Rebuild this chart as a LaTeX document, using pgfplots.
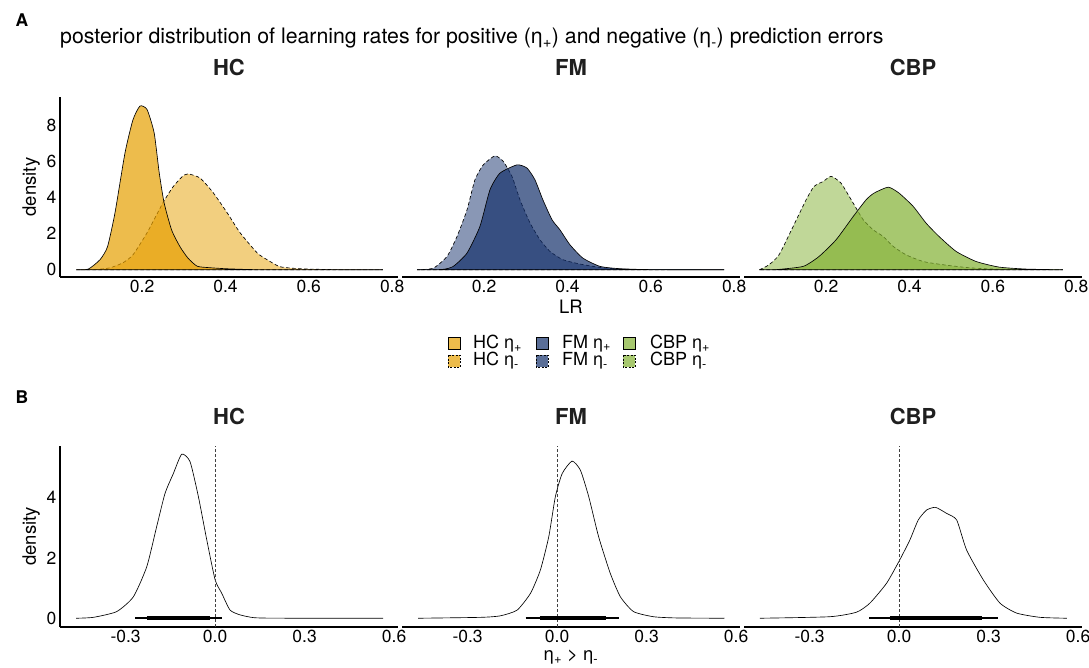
\documentclass[border=0pt]{standalone}
\usepackage{fontspec}
\setmainfont{TeX Gyre Heros}
\usepackage{pgfplots}
\usepackage{pgfplotstable}
\pgfplotsset{compat=1.18}

\definecolor{hc}{RGB}{230,159,0}
\definecolor{fm}{RGB}{20,48,107}
\definecolor{cbp}{RGB}{130,176,50}

% posterior densities of the learning rates (LR, density)
\pgfplotstableread{
x y
0.042 0
0.071 0.04
0.099 0.56
0.117 1.28
0.135 3.17
0.159 6.5
0.178 8.33
0.195 9.1
0.212 8.9
0.229 7.6
0.241 5.4
0.253 3.7
0.271 2.2
0.291 1.28
0.31 0.65
0.332 0.2
0.36 0.12
0.40 0.06
0.45 0.02
0.5 0.005
0.778 0
}\hcplus
\pgfplotstableread{
x y
0.042 0
0.09 0.02
0.123 0.11
0.154 0.39
0.178 0.83
0.212 2.06
0.25 3.72
0.274 4.6
0.296 5.17
0.31 5.33
0.339 5.1
0.37 4.3
0.404 3.17
0.435 2.06
0.476 0.94
0.5 0.56
0.531 0.17
0.579 0.06
0.658 0.01
0.778 0
}\hcminus
\pgfplotstableread{
x y
0.039 0
0.1 0.02
0.126 0.19
0.159 0.93
0.19 2.41
0.214 4.44
0.238 5.37
0.279 5.83
0.303 5.65
0.322 5.0
0.341 3.89
0.363 2.78
0.382 2.22
0.406 1.39
0.437 0.65
0.478 0.19
0.526 0.06
0.6 0.01
0.776 0
}\fmplus
\pgfplotstableread{
x y
0.039 0
0.078 0.09
0.111 0.74
0.135 1.85
0.159 3.33
0.178 5.0
0.198 5.83
0.226 6.33
0.246 6.02
0.267 5.18
0.286 3.89
0.31 2.61
0.334 1.67
0.358 1.02
0.389 0.56
0.43 0.32
0.478 0.13
0.526 0.04
0.6 0.01
0.776 0
}\fmminus
\pgfplotstableread{
x y
0.04 0
0.08 0.01
0.145 0.19
0.183 0.74
0.224 1.67
0.265 2.96
0.296 3.89
0.315 4.26
0.349 4.59
0.375 4.26
0.409 3.52
0.44 2.59
0.471 1.85
0.512 1.02
0.56 0.46
0.615 0.15
0.68 0.04
0.768 0
}\cbpplus
\pgfplotstableread{
x y
0.04 0
0.063 0.28
0.087 0.83
0.121 2.41
0.152 3.89
0.171 4.63
0.193 4.91
0.212 5.19
0.236 4.81
0.265 3.70
0.289 2.78
0.313 2.22
0.337 1.85
0.361 1.30
0.392 0.83
0.433 0.46
0.481 0.28
0.536 0.13
0.6 0.04
0.768 0
}\cbpminus

% posterior densities of the difference eta+ - eta-
\pgfplotstableread{
x y
-0.466 0
-0.408 0.03
-0.33 0.22
-0.274 0.71
-0.229 1.71
-0.196 3.03
-0.168 4.13
-0.14 4.79
-0.112 5.43
-0.084 5.18
-0.056 4.02
-0.028 2.59
0 1.27
0.022 0.83
0.05 0.27
0.084 0.11
0.129 0.02
0.2 0.003
0.563 0
}\hcdiff
\pgfplotstableread{
x y
-0.466 0
-0.256 0.03
-0.19 0.08
-0.134 0.27
-0.089 0.83
-0.056 1.6
-0.028 2.7
-0.006 4.02
0.017 4.79
0.05 5.2
0.078 4.9
0.106 4.02
0.139 2.7
0.178 1.49
0.212 0.71
0.256 0.22
0.323 0.05
0.4 0.01
0.561 0
}\fmdiff
\pgfplotstableread{
x y
-0.467 0
-0.233 0.05
-0.143 0.2
-0.098 0.5
-0.042 1.16
0.002 1.93
0.036 2.59
0.064 3.25
0.092 3.58
0.122 3.67
0.159 3.47
0.193 3.25
0.226 2.26
0.282 1.27
0.338 0.5
0.394 0.17
0.472 0.03
0.562 0
}\cbpdiff

\pgfplotsset{
  panel/.style={scale only axis, width=338pt, anchor=north west,
    axis x line*=bottom,
    axis line style={-, line width=1.1pt, black},
    major tick length=0pt,
    ticklabel style={font=\fontsize{17.5}{19}\selectfont, text=black},
    label style={font=\fontsize{18.5}{20}\selectfont},
    title style={font=\fontsize{22}{24}\selectfont\bfseries, text=black!88,
      at={(0.5,1)}, anchor=base, yshift=15.5pt},
  },
  panelA/.style={panel, height=180pt, xmin=0.003, xmax=0.814, ymin=-0.4, ymax=9.6,
    xtick={0.2,0.4,0.6,0.8}, xticklabels={0.2,0.4,0.6,0.8},
    ytick={0,2,4,6,8}, yticklabels={0,2,4,6,8}},
  panelB/.style={panel, height=181pt, xmin=-0.52, xmax=0.613, ymin=-0.29, ymax=5.70,
    xtick={-0.3,0,0.3,0.6}, xticklabels={-0.3,0.0,0.3,0.6},
    ytick={0,2,4}, yticklabels={0,2,4}},
  firstcol/.style={axis y line*=left, ylabel={density}},
  othercol/.style={axis y line=none, ytick=\empty},
  pos/.style={smooth, tension=0.35, fill=#1, fill opacity=0.7, draw=black, line width=0.65pt},
  neg/.style={smooth, tension=0.35, fill=#1, fill opacity=0.5, draw=black, line width=0.65pt,
    dash pattern=on 3.5pt off 2.5pt},
  diff/.style={smooth, tension=0.35, black, line width=0.65pt},
  zero/.style={black!75, line width=0.6pt, dash pattern=on 3pt off 2pt},
  ci95/.style={black, line width=1.8pt},
  ci80/.style={black, line width=4.5pt},
}

\begin{document}
\begin{tikzpicture}[x=1pt,y=1pt]
\useasboundingbox (0pt,0pt) rectangle (1089pt,-668pt);

% panel labels and overall title
\node[anchor=base west, font=\fontsize{17.5}{19}\selectfont\bfseries] at (12pt,-27pt) {A};
\node[anchor=base west, font=\fontsize{17.5}{19}\selectfont\bfseries] at (12pt,-403pt) {B};
\node[anchor=base west, inner sep=0pt, font=\fontsize{21.3}{23}\selectfont] at (60pt,-44pt)
  {posterior distribution of learning rates for positive (η\textsubscript{+}) and negative (η\textsubscript{-}) prediction errors};

% ---- A: learning rates ----
\begin{axis}[panelA, firstcol, at={(60pt,-97pt)}, title={HC}]
  \addplot[neg=hc] table {\hcminus} \closedcycle;
  \addplot[pos=hc] table {\hcplus} \closedcycle;
\end{axis}
\begin{axis}[panelA, othercol, at={(402pt,-97pt)}, title={FM}, xlabel={LR}]
  \addplot[neg=fm] table {\fmminus} \closedcycle;
  \addplot[pos=fm] table {\fmplus} \closedcycle;
\end{axis}
\begin{axis}[panelA, othercol, at={(744pt,-97pt)}, title={CBP}]
  \addplot[neg=cbp] table {\cbpminus} \closedcycle;
  \addplot[pos=cbp] table {\cbpplus} \closedcycle;
\end{axis}

% legend
\begin{scope}[font=\fontsize{18}{20}\selectfont]
  \foreach \c/\n/\sx/\tx in {hc/HC/448/473, fm/FM/536/562, cbp/CBP/623/650}{
    \draw[fill=\c, fill opacity=0.7, line width=0.6pt] (\sx pt,-337.5pt) rectangle ++(12pt,-12pt);
    \draw[fill=\c, fill opacity=0.7, line width=0.6pt, dash pattern=on 2pt off 1.5pt] (\sx pt,-355pt) rectangle ++(12pt,-12pt);
    \node[anchor=west, inner sep=0pt] at (\tx pt,-343.5pt) {\n\ η\textsubscript{+}};
    \node[anchor=west, inner sep=0pt] at (\tx pt,-361pt) {\n\ η\textsubscript{-}};
  }
\end{scope}

% ---- B: difference of learning rates ----
\begin{axis}[panelB, firstcol, at={(60pt,-446pt)}, title={HC}]
  \addplot[diff] table {\hcdiff};
  \addplot[zero] coordinates {(0,-0.29) (0,5.70)};
  \addplot[ci95] coordinates {(-0.268,0) (0.022,0)};
  \addplot[ci80] coordinates {(-0.229,0) (-0.017,0)};
\end{axis}
\begin{axis}[panelB, othercol, at={(402pt,-446pt)}, title={FM},
    xlabel={η\textsubscript{+} > η\textsubscript{-}}]
  \addplot[diff] table {\fmdiff};
  \addplot[zero] coordinates {(0,-0.29) (0,5.70)};
  \addplot[ci95] coordinates {(-0.106,0) (0.208,0)};
  \addplot[ci80] coordinates {(-0.058,0) (0.165,0)};
\end{axis}
\begin{axis}[panelB, othercol, at={(744pt,-446pt)}, title={CBP}]
  \addplot[diff] table {\cbpdiff};
  \addplot[zero] coordinates {(0,-0.29) (0,5.70)};
  \addplot[ci95] coordinates {(-0.1,0) (0.33,0)};
  \addplot[ci80] coordinates {(-0.031,0) (0.279,0)};
\end{axis}
\end{tikzpicture}
\end{document}
